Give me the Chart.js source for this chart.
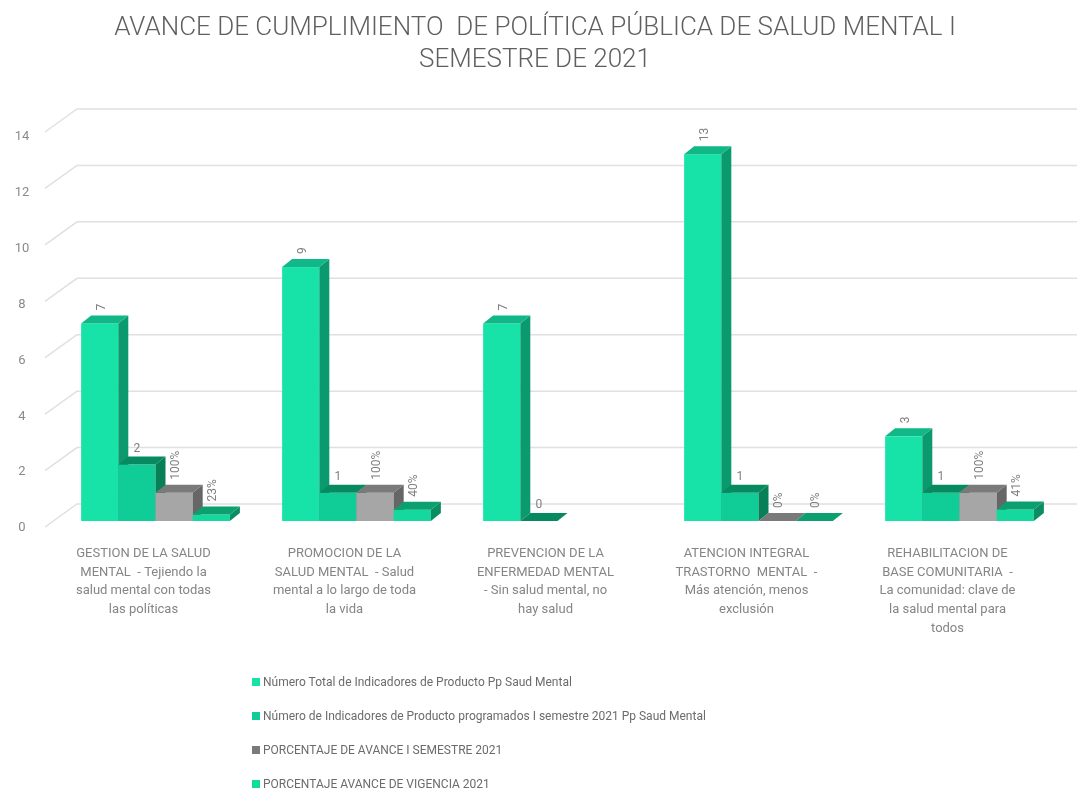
<!DOCTYPE html>
<html>
<head>
<meta charset="utf-8">
<title>Avance Política Pública de Salud Mental</title>
<script src="https://cdn.jsdelivr.net/npm/chart.js@4.4.1/dist/chart.umd.min.js"></script>
<style>
  html, body { margin: 0; padding: 0; background: #fff; }
  #wrap { position: relative; width: 1077px; height: 793px; }
  #legend { position: absolute; left: 252px; top: 671px; font-family: Roboto, sans-serif; font-size: 12px; color: #6b6b6b; }
  #legend .item { height: 34px; line-height: 22px; white-space: nowrap; }
  #legend .box { display: inline-block; width: 8px; height: 8px; margin-right: 3px; vertical-align: 0px; }
</style>
</head>
<body>
<div id="wrap">
  <canvas id="grafico" width="1077" height="793"></canvas>
  <div id="legend"></div>
</div>
<script>
// Avance de cumplimiento - Política Pública de Salud Mental, I semestre 2021

const categorias = [
  ['GESTION DE LA SALUD', 'MENTAL  - Tejiendo la', 'salud mental con todas', 'las políticas'],
  ['PROMOCION DE LA', 'SALUD MENTAL  - Salud', 'mental a lo largo de toda', 'la vida'],
  ['PREVENCION DE LA', 'ENFERMEDAD MENTAL', '- Sin salud mental, no', 'hay salud'],
  ['ATENCION INTEGRAL', 'TRASTORNO  MENTAL  -', 'Más atención, menos', 'exclusión'],
  ['REHABILITACION DE', 'BASE COMUNITARIA  -', 'La comunidad: clave de', 'la salud mental para', 'todos']
];

const totalIndicadores = [7, 9, 7, 13, 3];
const programadosSemestre = [2, 1, 0, 1, 1];
const avanceSemestre = [1, 1, null, 0, 1];        // 1 = 100%
const avanceVigencia = [0.23, 0.40, null, 0, 0.41];

const nombresSeries = [
  'Número Total de Indicadores de Producto Pp Saud Mental',
  'Número  de Indicadores de Producto programados I semestre 2021  Pp Saud Mental',
  'PORCENTAJE DE AVANCE  I SEMESTRE 2021',
  'PORCENTAJE AVANCE DE VIGENCIA 2021'
];

const tituloLineas = ['AVANCE DE CUMPLIMIENTO  DE POLÍTICA PÚBLICA DE SALUD MENTAL I', 'SEMESTRE DE 2021'];

const FUENTE = 'Roboto, sans-serif';
const PROF_X = 10, PROF_Y = 8;   // profundidad de las barras 3D

const numero = v => String(v);
const porcentaje = v => Math.round(v * 100) + '%';

function serie(i, data, frente, arriba, lado, formato, girar) {
  return {
    label: nombresSeries[i], data: data,
    backgroundColor: frente, frente: frente, arriba: arriba, lado: lado,
    formato: formato, girar: girar
  };
}

// dibuja la rejilla de fondo, las barras en 3D y las etiquetas
const barras3d = {
  id: 'barras3d',
  beforeDatasetsDraw(chart) {
    const ctx = chart.ctx;
    const ys = chart.scales.y;
    const area = chart.chartArea;
    ctx.save();

    ctx.strokeStyle = '#e0e0e0';
    ctx.lineWidth = 1.5;
    ctx.fillStyle = '#8a8a8a';
    ctx.font = '13px ' + FUENTE;
    ctx.textAlign = 'center';
    ctx.textBaseline = 'middle';
    ys.ticks.forEach(t => {
      const py = ys.getPixelForValue(t.value);
      ctx.beginPath();
      ctx.moveTo(area.left - 10, py + 6);
      ctx.lineTo(area.left + 22, py - 17);
      ctx.lineTo(chart.width, py - 17);
      ctx.stroke();
      ctx.fillText(String(t.value), 22, py + 7 + t.value * 0.3);
    });

    const etiquetas = [];
    chart.data.datasets.forEach((ds, i) => {
      const meta = chart.getDatasetMeta(i);
      meta.data.forEach((bar, j) => {
        const v = ds.data[j];
        if (v === null || v === undefined) return;
        const p = bar.getProps(['x', 'y', 'base', 'width'], true);
        const l = p.x - p.width / 2, r = p.x + p.width / 2;
        // frente
        ctx.fillStyle = ds.frente;
        ctx.fillRect(l, p.y, r - l, p.base - p.y);
        // lado
        ctx.fillStyle = ds.lado;
        ctx.beginPath();
        ctx.moveTo(r, p.y);
        ctx.lineTo(r + PROF_X, p.y - PROF_Y);
        ctx.lineTo(r + PROF_X, p.base - PROF_Y);
        ctx.lineTo(r, p.base);
        ctx.closePath();
        ctx.fill();
        // techo
        ctx.fillStyle = ds.arriba;
        ctx.beginPath();
        ctx.moveTo(l, p.y);
        ctx.lineTo(l + PROF_X, p.y - PROF_Y);
        ctx.lineTo(r + PROF_X, p.y - PROF_Y);
        ctx.lineTo(r, p.y);
        ctx.closePath();
        ctx.fill();
        etiquetas.push({ x: p.x, y: p.y - PROF_Y, texto: ds.formato(v), girar: ds.girar });
      });
    });

    ctx.fillStyle = '#7f7f7f';
    ctx.font = '12px ' + FUENTE;
    etiquetas.forEach(e => {
      if (e.girar) {
        ctx.save();
        ctx.translate(e.x + 2, e.y - 5);
        ctx.rotate(-Math.PI / 2);
        ctx.textAlign = 'left';
        ctx.textBaseline = 'middle';
        ctx.fillText(e.texto, 0, 0);
        ctx.restore();
      } else {
        ctx.textAlign = 'center';
        ctx.textBaseline = 'bottom';
        ctx.fillText(e.texto, e.x, e.y - 2);
      }
    });

    ctx.restore();
    return false;
  }
};

const chart = new Chart(document.getElementById('grafico'), {
  type: 'bar',
  data: {
    labels: categorias,
    datasets: [
      serie(0, totalIndicadores, '#17e3a9', '#10b887', '#0a9a6d', numero, true),
      serie(1, programadosSemestre, '#10cc96', '#088a60', '#078058', numero, false),
      serie(2, avanceSemestre, '#a6a6a6', '#7a7a7a', '#666666', porcentaje, true),
      serie(3, avanceVigencia, '#15d89f', '#0c9f70', '#0a8d63', porcentaje, true)
    ]
  },
  options: {
    responsive: false,
    animation: false,
    categoryPercentage: 0.74,
    barPercentage: 1,
    layout: { padding: { left: 10, right: 17, top: 0, bottom: 152 } },
    plugins: {
      legend: { display: false },
      tooltip: { enabled: false },
      title: {
        display: true,
        text: tituloLineas,
        color: '#5f5f5f',
        font: { family: FUENTE, size: 26, weight: '300', lineHeight: 1.25 },
        padding: { top: 12, bottom: 49 }
      }
    },
    scales: {
      x: {
        grid: { display: false },
        border: { display: false },
        ticks: {
          color: '#858585',
          font: { family: FUENTE, size: 13, lineHeight: 1.45 },
          maxRotation: 0, autoSkip: false, padding: 15, labelOffset: -12
        },
        afterFit(scale) { scale.height = 120; }
      },
      y: {
        min: 0, max: 14,
        grid: { display: false },
        border: { display: false },
        ticks: { stepSize: 2, display: false },
        afterFit(scale) { scale.width = 45; }
      }
    }
  },
  plugins: [barras3d]
});

// leyenda vertical en html
const leyenda = document.getElementById('legend');
chart.data.datasets.forEach(ds => {
  const fila = document.createElement('div');
  fila.className = 'item';
  fila.innerHTML = '<span class="box" style="background:' + (ds.frente === '#a6a6a6' ? '#7a7a7a' : ds.frente) + '"></span>' + ds.label;
  leyenda.appendChild(fila);
});
</script>
</body>
</html>
